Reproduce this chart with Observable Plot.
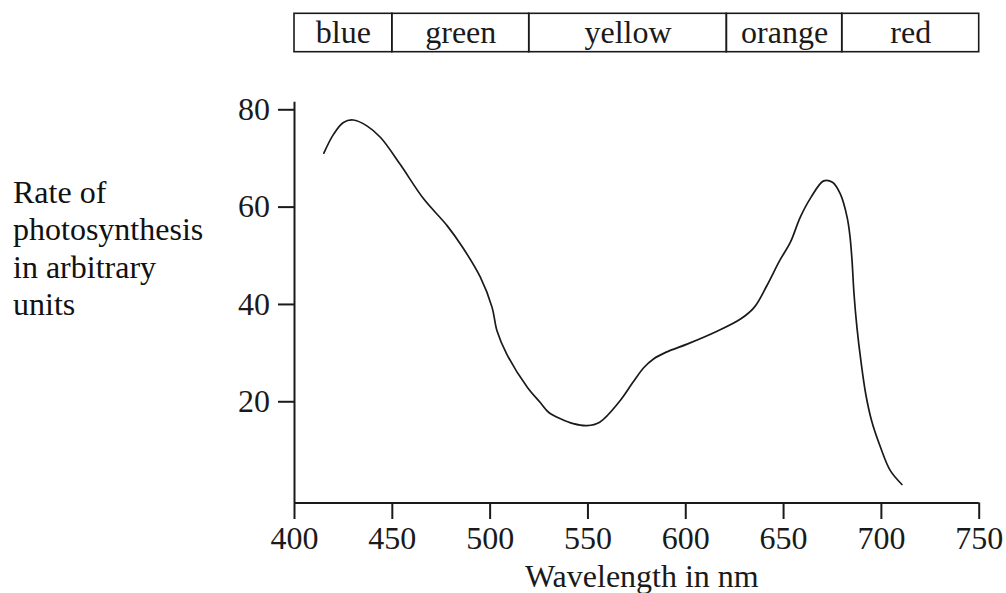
<!DOCTYPE html>
<html><head><meta charset="utf-8">
<script src="https://cdn.jsdelivr.net/npm/d3@7"></script>
<script src="https://cdn.jsdelivr.net/npm/@observablehq/plot@0.6"></script>
<style>
body{margin:0;background:#fff;font-family:"Liberation Serif",serif;}
#wrap{position:relative;width:1006px;height:593px;overflow:hidden;background:#fff;}
#ylabel{position:absolute;left:13px;top:174px;font-size:32px;line-height:37.3px;color:#111;white-space:nowrap;}
svg{display:block}
</style></head><body>
<div id="wrap"><div id="band"></div><div id="main"></div><div id="ylabel">Rate of<br>photosynthesis<br>in arbitrary<br>units</div></div>
<script>
const bandNames = ["blue", "green", "yellow", "orange", "red"];
const bandStart = [400, 450, 520, 621, 680];
const bandEnd = [450, 520, 621, 680, 750];

const wavelength = [415, 420, 425, 430, 437, 444, 454, 466, 478, 486, 495, 501, 503.5, 508.5, 519, 525.5, 530, 536, 542.5, 549.5, 556, 566, 573, 578.5, 583.5, 590, 601, 616, 628, 635, 641.5, 648, 653.5, 658.5, 664, 670.5, 675, 679, 682.5, 684, 685, 686, 687.5, 689.5, 692, 695, 699.5, 704.5, 710.5];
const rate = [71.1, 75.0, 77.4, 77.9, 76.7, 74.3, 68.8, 61.7, 56.2, 51.7, 45.6, 39.4, 34.6, 29.8, 23.0, 19.9, 17.8, 16.5, 15.5, 15.1, 15.8, 20.0, 24.0, 27.0, 28.8, 30.2, 31.9, 34.5, 37.0, 39.4, 43.9, 49.0, 52.8, 57.9, 62.0, 65.4, 65.1, 62.7, 57.9, 53.8, 49.0, 42.2, 35.3, 28.5, 21.6, 16.1, 10.7, 5.9, 3.0];

const xTicks = [400, 450, 500, 550, 600, 650, 700, 750];
const yTicks = [20, 40, 60, 80];
const xLabel = "Wavelength in nm";

const bandData = bandNames.map((n, i) => ({name: n, start: bandStart[i], end: bandEnd[i]}));
const curve = wavelength.map((w, i) => ({w, r: rate[i]}));

const font = "Liberation Serif, Times New Roman, serif";
const ink = "#1a1a1a";

const band = Plot.plot({
  width: 1006, height: 60,
  marginLeft: 294, marginRight: 27.3, marginTop: 13.3, marginBottom: 8.3,
  x: {domain: [400, 750], axis: null},
  style: {fontFamily: font, fontSize: "32px", color: ink, background: "white", overflow: "visible"},
  marks: [
    Plot.rect(bandData, {x1: "start", x2: "end", fill: "none", stroke: ink, strokeWidth: 1.6}),
    Plot.text(bandData, {x: d => (d.start + d.end) / 2, text: "name", fontSize: 32, fill: ink})
  ]
});

const main = Plot.plot({
  width: 1006, height: 533,
  marginLeft: 294, marginRight: 27.3, marginTop: 41.7, marginBottom: 90.5,
  x: {domain: [400, 750]},
  y: {domain: [-0.8, 81.56]},
  style: {fontFamily: font, fontSize: "32px", color: ink, background: "white", overflow: "visible"},
  marks: [
    Plot.axisX({ticks: xTicks, tickSize: 16.5, tickPadding: 6.6, strokeWidth: 2, label: null, fontSize: 32}),
    Plot.axisY({ticks: yTicks, tickSize: 16, tickPadding: 8.5, strokeWidth: 2, label: null, fontSize: 32}),
    Plot.ruleX([400], {stroke: ink, strokeWidth: 2}),
    Plot.ruleY([-0.8], {stroke: ink, strokeWidth: 2}),
    Plot.line(curve, {x: "w", y: "r", curve: "catmull-rom", stroke: ink, strokeWidth: 1.7}),
    Plot.text([xLabel], {text: d => d, frameAnchor: "bottom", lineAnchor: "top", dy: 61.5, dx: 5, fontSize: 32, fill: ink})
  ]
});

document.getElementById("band").appendChild(band);
document.getElementById("main").appendChild(main);
</script>
</body></html>
